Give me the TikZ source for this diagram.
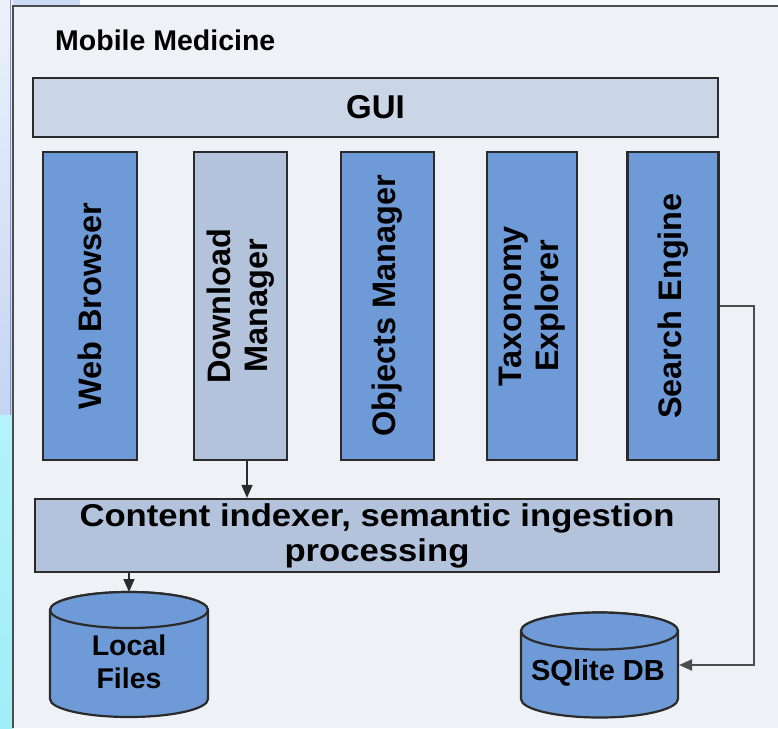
\documentclass[tikz,border=0pt]{standalone}
\usepackage{fontspec}
\usepackage{graphicx}
\setmainfont{Liberation Sans}
\usetikzlibrary{arrows.meta}
\definecolor{bgc}{HTML}{EEF1F6}
\definecolor{blueF}{HTML}{6E9BD7}
\definecolor{lightF}{HTML}{B3C3DC}
\definecolor{guiF}{HTML}{CAD5E5}
\definecolor{edge}{HTML}{2B2B2B}
\definecolor{frameC}{HTML}{4D4D4D}
\definecolor{topband}{HTML}{C8DCF5}
\definecolor{stripA}{HTML}{ECF2FB}
\definecolor{stripB}{HTML}{C4D4F2}
\definecolor{stripC}{HTML}{B4F3FA}
\definecolor{stripD}{HTML}{A0EEF6}
\definecolor{stripLine}{HTML}{8C91D2}
\tikzset{
  colbox/.style={draw=edge, line width=2.2pt, fill=blueF, minimum height=308pt, inner sep=0pt},
  lightbox/.style={draw=edge, line width=2.2pt, fill=lightF, inner sep=0pt},
  coltext/.style={rotate=90, font=\bfseries\fontsize{32.5}{37}\selectfont, align=center, inner sep=0pt},
  cyl/.style={draw=edge, line width=2.2pt, fill=blueF},
  arr/.style={draw=edge, line width=1.6pt, -{Triangle[length=13pt,width=11pt]}},
  conn/.style={draw=frameC, line width=2pt, -{Triangle[length=13pt,width=11pt]}}
}
\begin{document}
\begin{tikzpicture}[x=1pt,y=-1pt]
\useasboundingbox (0,0) rectangle (778,728);
% background
\fill[white!60!bgc] (0,0) rectangle (778,728);
\fill[topband] (0,0) rectangle (80,6);
\shade[top color=stripA, bottom color=stripB] (0,0) rectangle (13,415);
\shade[top color=stripC, bottom color=stripD] (0,415) rectangle (13,728);
\draw[stripLine, line width=1.2pt] (10.5,0) -- (10.5,415);
\fill[bgc] (13,6) rectangle (778,728);
\draw[frameC, line width=2.6pt] (13,728) -- (13,6) -- (778,6);
% title
\node[anchor=base west, font=\bfseries\fontsize{28.5}{32}\selectfont, inner sep=0pt] (title) at (55,50) {Mobile Medicine};
% GUI
\node[draw=edge, line width=2.2pt, fill=guiF, minimum width=685pt, minimum height=59pt, inner sep=0pt] (gui) at (375.5,107.5) {};
\node[font=\bfseries\fontsize{33}{36}\selectfont, inner sep=0pt] (guit) at (gui) {GUI};
% columns
\node[colbox, minimum width=94pt] (wb) at (90,306) {};
\node[lightbox, minimum width=93pt, minimum height=308pt] (dm) at (240.5,306) {};
\node[colbox, minimum width=93pt] (om) at (387.5,306) {};
\node[colbox, minimum width=90pt] (te) at (532,306) {};
\node[colbox, minimum width=91pt] (se) at (673,306) {};
\node[coltext] (wbt) at (wb) {Web Browser};
\node[coltext] (dmt) at (dm) {Download\\Manager};
\node[coltext] (omt) at (om) {Objects Manager};
\node[coltext] (tet) at (te) {Taxonomy\\Explorer};
\node[coltext] (set) at (se) {Search Engine};
% content indexer
\node[lightbox, minimum width=684pt, minimum height=73pt] (ci) at (377,535.5) {};
\node[font=\bfseries\fontsize{31.5}{35}\selectfont, align=center, inner sep=0pt] (cit) at (377,536) {\scalebox{1.1}[1]{Content indexer, semantic ingestion}\\\scalebox{1.1}[1]{processing}};
% cylinders
\path[cyl] (50,610) -- (50,699) arc[start angle=180, end angle=360, x radius=79pt, y radius=18pt] -- (208,610) arc[start angle=0, end angle=180, x radius=79pt, y radius=18pt] -- cycle;
\draw[cyl] (129,610) ellipse[x radius=79pt, y radius=18pt];
\node[font=\bfseries\fontsize{28.5}{33}\selectfont, align=center, inner sep=0pt] (lf) at (129,662) {Local\\Files};
\coordinate (lfTop) at (129,592);
\path[cyl] (521,631) -- (521,699) arc[start angle=180, end angle=360, x radius=78.5pt, y radius=18.5pt] -- (678,631) arc[start angle=0, end angle=180, x radius=78.5pt, y radius=18.5pt] -- cycle;
\draw[cyl] (599.5,631) ellipse[x radius=78.5pt, y radius=18.5pt];
\node[font=\bfseries\fontsize{29}{33}\selectfont, inner sep=0pt] (db) at (598,673) {SQlite DB};
\coordinate (dbIn) at (679,665);
% connectors
\draw[arr] ([xshift=6.5pt]dm.south) -- ([xshift=6.5pt]dm.south |- ci.north);
\draw[arr] (ci.south -| lfTop) -- (lfTop);
\draw[conn] (se.east) -- ++(34,0) |- (dbIn);
\end{tikzpicture}
\end{document}
